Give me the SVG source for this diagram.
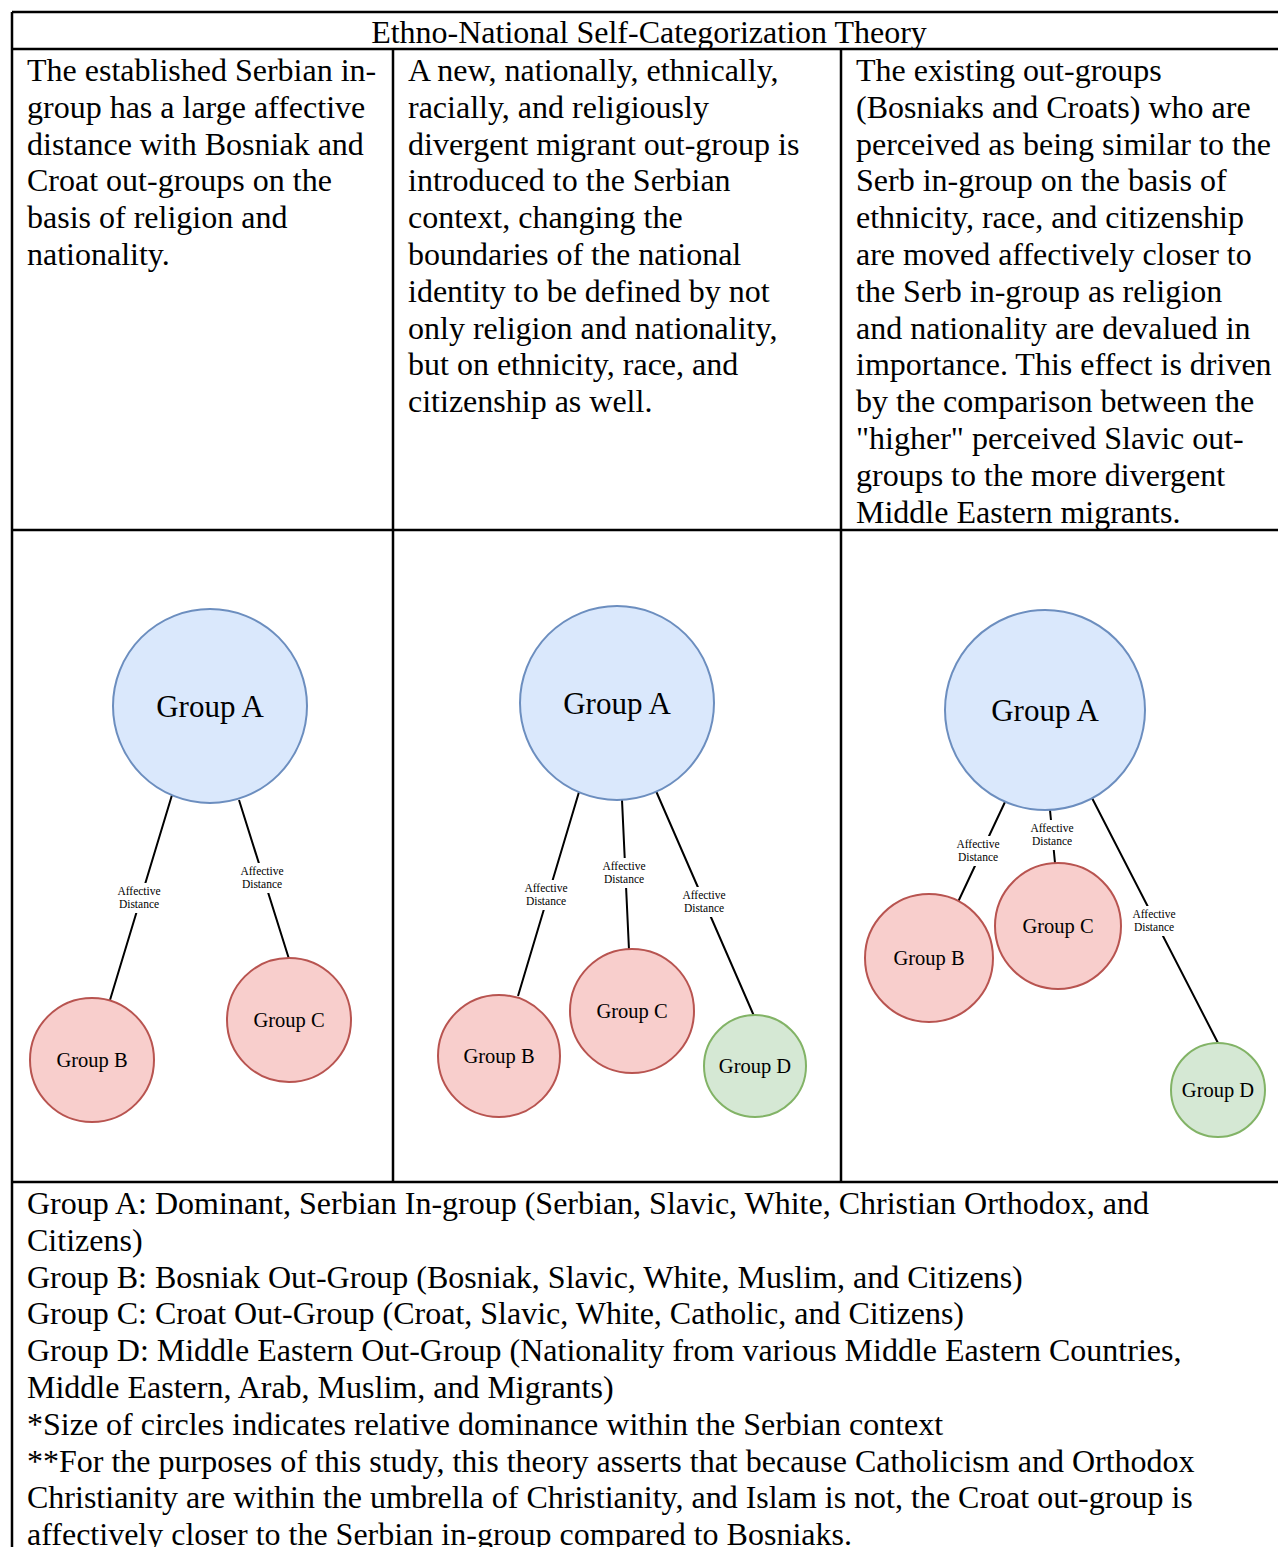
<svg xmlns="http://www.w3.org/2000/svg" width="1278" height="1547" viewBox="0 0 1278 1547">
<style>
.t{font-family:"Liberation Serif","Times New Roman",serif;font-size:32px;fill:#000}
.grid{stroke:#000;stroke-width:2.5;fill:none}
.conn{stroke:#000;stroke-width:2;fill:none}
.lbl{font-family:"Liberation Serif","Times New Roman",serif;font-size:11.5px;fill:#000;text-anchor:middle}
.lb{fill:#fff}
.a{fill:#dae8fc;stroke:#6c8ebf;stroke-width:2}
.r{fill:#f8cecc;stroke:#b85450;stroke-width:2}
.g{fill:#d5e8d4;stroke:#82b366;stroke-width:2}
.big{font-family:"Liberation Serif","Times New Roman",serif;font-size:31px;text-anchor:middle;dominant-baseline:central}
.sm{font-family:"Liberation Serif","Times New Roman",serif;font-size:20.5px;text-anchor:middle;dominant-baseline:central}
</style>
<rect width="1278" height="1547" fill="#fff"/>
<g id="table">
<path class="grid" d="M12 12H1278M12 49H1278M12 530H1278M12 1182H1278M12 12V1547M393 49V1182M841 49V1182"/>
</g>
<g id="texts">
<text class="t" x="649" y="43" text-anchor="middle">Ethno-National Self-Categorization Theory</text>
<text class="t" x="27" y="81">
<tspan x="27" dy="0">The established Serbian in-</tspan>
<tspan x="27" dy="36.8">group has a large affective</tspan>
<tspan x="27" dy="36.8">distance with Bosniak and</tspan>
<tspan x="27" dy="36.8">Croat out-groups on the</tspan>
<tspan x="27" dy="36.8">basis of religion and</tspan>
<tspan x="27" dy="36.8">nationality.</tspan>
</text>
<text class="t" x="408" y="81">
<tspan x="408" dy="0">A new, nationally, ethnically,</tspan>
<tspan x="408" dy="36.8">racially, and religiously</tspan>
<tspan x="408" dy="36.8">divergent migrant out-group is</tspan>
<tspan x="408" dy="36.8">introduced to the Serbian</tspan>
<tspan x="408" dy="36.8">context, changing the</tspan>
<tspan x="408" dy="36.8">boundaries of the national</tspan>
<tspan x="408" dy="36.8">identity to be defined by not</tspan>
<tspan x="408" dy="36.8">only religion and nationality,</tspan>
<tspan x="408" dy="36.8">but on ethnicity, race, and</tspan>
<tspan x="408" dy="36.8">citizenship as well.</tspan>
</text>
<text class="t" x="856" y="81">
<tspan x="856" dy="0">The existing out-groups</tspan>
<tspan x="856" dy="36.8">(Bosniaks and Croats) who are</tspan>
<tspan x="856" dy="36.8">perceived as being similar to the</tspan>
<tspan x="856" dy="36.8">Serb in-group on the basis of</tspan>
<tspan x="856" dy="36.8">ethnicity, race, and citizenship</tspan>
<tspan x="856" dy="36.8">are moved affectively closer to</tspan>
<tspan x="856" dy="36.8">the Serb in-group as religion</tspan>
<tspan x="856" dy="36.8">and nationality are devalued in</tspan>
<tspan x="856" dy="36.8">importance. This effect is driven</tspan>
<tspan x="856" dy="36.8">by the comparison between the</tspan>
<tspan x="856" dy="36.8">"higher" perceived Slavic out-</tspan>
<tspan x="856" dy="36.8">groups to the more divergent</tspan>
<tspan x="856" dy="36.8">Middle Eastern migrants.</tspan>
</text>
<text class="t" x="27" y="1214">
<tspan x="27" dy="0">Group A: Dominant, Serbian In-group (Serbian, Slavic, White, Christian Orthodox, and</tspan>
<tspan x="27" dy="36.8">Citizens)</tspan>
<tspan x="27" dy="36.8">Group B: Bosniak Out-Group (Bosniak, Slavic, White, Muslim, and Citizens)</tspan>
<tspan x="27" dy="36.8">Group C: Croat Out-Group (Croat, Slavic, White, Catholic, and Citizens)</tspan>
<tspan x="27" dy="36.8">Group D: Middle Eastern Out-Group (Nationality from various Middle Eastern Countries,</tspan>
<tspan x="27" dy="36.8">Middle Eastern, Arab, Muslim, and Migrants)</tspan>
<tspan x="27" dy="36.8">*Size of circles indicates relative dominance within the Serbian context</tspan>
<tspan x="27" dy="36.8">**For the purposes of this study, this theory asserts that because Catholicism and Orthodox</tspan>
<tspan x="27" dy="36.8">Christianity are within the umbrella of Christianity, and Islam is not, the Croat out-group is</tspan>
<tspan x="27" dy="36.6">affectively closer to the Serbian in-group compared to Bosniaks.</tspan>
</text>
</g>
<g id="connectors">
<path class="conn" d="M172 795L110 1000M239 800L289 959M579 792L518 996M622 800L629 950M656 791L754 1016M1005 802L958 902M1050 810L1055 863M1092 798L1218 1043"/>
<g id="labels">
<rect class="lb" x="115" y="883" width="48" height="30"/>
<text class="lbl" x="139" y="895">Affective</text><text class="lbl" x="139" y="908">Distance</text>
<rect class="lb" x="238" y="863" width="48" height="30"/>
<text class="lbl" x="262" y="875">Affective</text><text class="lbl" x="262" y="888">Distance</text>
<rect class="lb" x="522" y="880" width="48" height="30"/>
<text class="lbl" x="546" y="892">Affective</text><text class="lbl" x="546" y="905">Distance</text>
<rect class="lb" x="600" y="858" width="48" height="30"/>
<text class="lbl" x="624" y="870">Affective</text><text class="lbl" x="624" y="883">Distance</text>
<rect class="lb" x="680" y="887" width="48" height="30"/>
<text class="lbl" x="704" y="899">Affective</text><text class="lbl" x="704" y="912">Distance</text>
<rect class="lb" x="954" y="836" width="48" height="30"/>
<text class="lbl" x="978" y="848">Affective</text><text class="lbl" x="978" y="861">Distance</text>
<rect class="lb" x="1028" y="820" width="48" height="30"/>
<text class="lbl" x="1052" y="832">Affective</text><text class="lbl" x="1052" y="845">Distance</text>
<rect class="lb" x="1130" y="906" width="48" height="30"/>
<text class="lbl" x="1154" y="918">Affective</text><text class="lbl" x="1154" y="931">Distance</text>
</g>
</g>
<g id="d1-groupA"><circle class="a" cx="210" cy="706" r="97"/><text class="big" x="210" y="706">Group A</text></g>
<g id="d1-groupB"><circle class="r" cx="92" cy="1060" r="62"/><text class="sm" x="92" y="1060">Group B</text></g>
<g id="d1-groupC"><circle class="r" cx="289" cy="1020" r="62"/><text class="sm" x="289" y="1020">Group C</text></g>
<g id="d2-groupA"><circle class="a" cx="617" cy="703" r="97"/><text class="big" x="617" y="703">Group A</text></g>
<g id="d2-groupB"><circle class="r" cx="499" cy="1056" r="61"/><text class="sm" x="499" y="1056">Group B</text></g>
<g id="d2-groupC"><circle class="r" cx="632" cy="1011" r="62"/><text class="sm" x="632" y="1011">Group C</text></g>
<g id="d2-groupD"><circle class="g" cx="755" cy="1066" r="51"/><text class="sm" x="755" y="1066">Group D</text></g>
<g id="d3-groupA"><circle class="a" cx="1045" cy="710" r="100"/><text class="big" x="1045" y="710">Group A</text></g>
<g id="d3-groupB"><circle class="r" cx="929" cy="958" r="64"/><text class="sm" x="929" y="958">Group B</text></g>
<g id="d3-groupC"><circle class="r" cx="1058" cy="926" r="63"/><text class="sm" x="1058" y="926">Group C</text></g>
<g id="d3-groupD"><circle class="g" cx="1218" cy="1090" r="47"/><text class="sm" x="1218" y="1090">Group D</text></g>
</svg>
